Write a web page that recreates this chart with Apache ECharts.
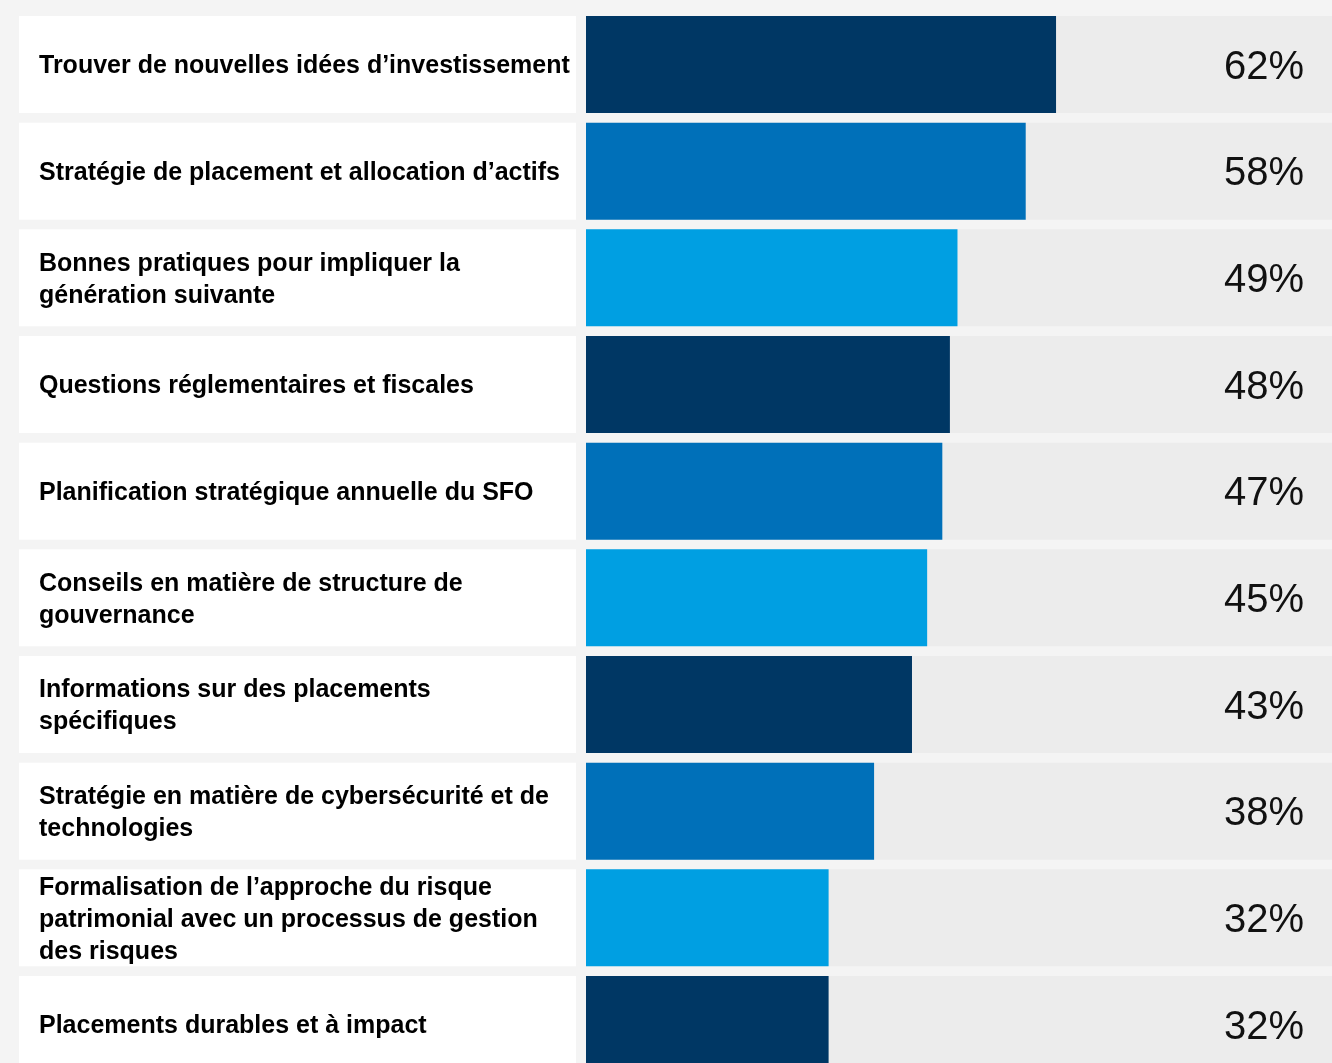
<!DOCTYPE html>
<html>
<head>
<meta charset="utf-8">
<script src="https://cdn.jsdelivr.net/npm/echarts@6/dist/echarts.min.js"></script>
<style>
  html, body { margin: 0; padding: 0; background: #F4F4F4; }
  #chart { width: 1332px; height: 1063px; }
</style>
</head>
<body>
<div id="chart"></div>
<script>
const categories = [
  "Trouver de nouvelles idées d’investissement",
  "Stratégie de placement et allocation d’actifs",
  "Bonnes pratiques pour impliquer la\ngénération suivante",
  "Questions réglementaires et fiscales",
  "Planification stratégique annuelle du SFO",
  "Conseils en matière de structure de\ngouvernance",
  "Informations sur des placements\nspécifiques",
  "Stratégie en matière de cybersécurité et de\ntechnologies",
  "Formalisation de l’approche du risque\npatrimonial avec un processus de gestion\ndes risques",
  "Placements durables et à impact"
];
const values = [62, 58, 49, 48, 47, 45, 43, 38, 32, 32];
const palette = ["#003764", "#0070B9", "#009FE2"];
const AXIS_MAX = 98.4;
const labelBoxes = categories.map(() => 1);
const track = categories.map(() => AXIS_MAX);

const FONT = "'Liberation Sans', Arial, sans-serif";
const chart = echarts.init(document.getElementById('chart'), null, { renderer: 'canvas' });
const gridTop = 11.17, gridBottom = -14.84;

chart.setOption({
  backgroundColor: '#F4F4F4',
  animation: false,
  grid: [
    { left: 19, width: 557, top: gridTop, bottom: gridBottom, containLabel: false, outerBoundsMode: 'none' },
    { left: 586, right: 0, top: gridTop, bottom: gridBottom, containLabel: false, outerBoundsMode: 'none' }
  ],
  xAxis: [
    { gridIndex: 0, type: 'value', min: 0, max: 1, show: false },
    { gridIndex: 1, type: 'value', min: 0, max: AXIS_MAX, show: false }
  ],
  yAxis: [
    { gridIndex: 0, type: 'category', data: categories, inverse: true, show: false },
    { gridIndex: 1, type: 'category', data: categories, inverse: true, show: false }
  ],
  series: [
    {
      type: 'bar', xAxisIndex: 0, yAxisIndex: 0, data: labelBoxes, barWidth: 97,
      itemStyle: { color: '#FFFFFF' },
      silent: true,
      label: {
        show: true, position: 'insideLeft', distance: 20, offset: [0, 2],
        formatter: p => categories[p.dataIndex],
        fontFamily: FONT, fontWeight: 'bold', fontSize: 25, lineHeight: 32,
        color: '#000000', align: 'left'
      }
    },
    {
      type: 'bar', xAxisIndex: 1, yAxisIndex: 1, data: track, barWidth: 97,
      itemStyle: { color: '#ECECEC' }, z: 1, silent: true,
      label: {
        show: true, position: 'insideRight', distance: 28, offset: [0, 3],
        formatter: p => values[p.dataIndex] + '%',
        fontFamily: FONT, fontSize: 40, color: '#111111'
      }
    },
    {
      type: 'bar', xAxisIndex: 1, yAxisIndex: 1, data: values, barWidth: 97, barGap: '-100%', z: 2,
      silent: true,
      itemStyle: { color: p => palette[p.dataIndex % 3] }
    }
  ]
});
</script>
</body>
</html>
